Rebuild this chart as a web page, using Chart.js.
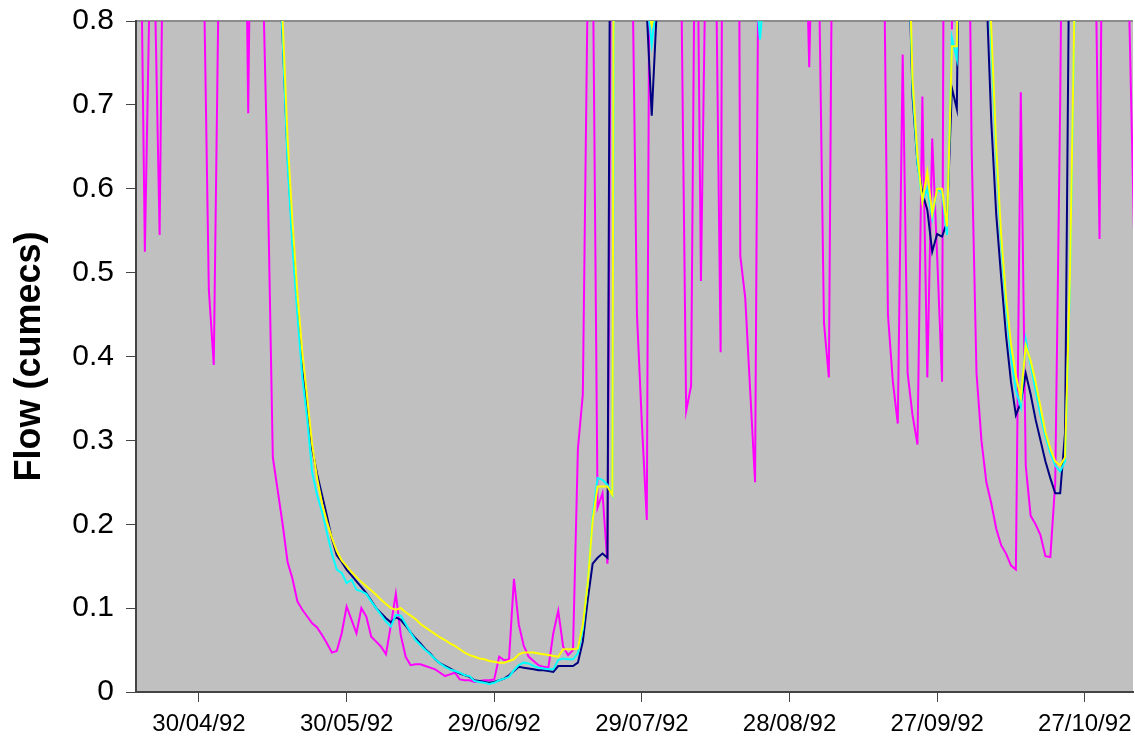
<!DOCTYPE html>
<html>
<head>
<meta charset="utf-8">
<script src="https://cdn.jsdelivr.net/npm/chart.js@4.4.1/dist/chart.umd.min.js"></script>
<style>
  html, body { margin: 0; padding: 0; background: #fff; }
  #wrap { width: 1135px; height: 742px; }
</style>
</head>
<body>
<div id="wrap"><canvas id="flow-chart" width="1135" height="742"></canvas></div>
<script>
// daily series, day 0 = 17/04/92
const tickDays = [13, 43, 73, 103, 133, 163, 193];
const tickLabels = ["30/04/92", "30/05/92", "29/06/92", "29/07/92", "28/08/92", "27/09/92", "27/10/92"];
const yTickLabels = ["0", "0.1", "0.2", "0.3", "0.4", "0.5", "0.6", "0.7", "0.8"];

const observed = [
    1.2, 1.0, 0.525, 0.85, 0.85, 0.545, 1.1, 1.4, 1.6, 1.5,
    1.3, 1.2, 1.1, 1.0, 0.85, 0.48, 0.39, 0.85, 1.2, 1.4,
    1.3, 1.1, 1.2, 0.69, 1.2, 1.1, 0.85, 0.6, 0.28, 0.24,
    0.2, 0.155, 0.135, 0.108, 0.098, 0.09, 0.082, 0.077, 0.068, 0.058,
    0.047, 0.049, 0.07, 0.102, 0.086, 0.07, 0.1, 0.09, 0.066, 0.06,
    0.054, 0.045, 0.08, 0.117, 0.068, 0.042, 0.032, 0.033, 0.033, 0.031,
    0.029, 0.027, 0.023, 0.019, 0.021, 0.023, 0.015, 0.014, 0.014, 0.012,
    0.013, 0.014, 0.014, 0.015, 0.042, 0.038, 0.039, 0.135, 0.08, 0.055,
    0.042, 0.037, 0.032, 0.03, 0.029, 0.07, 0.097, 0.054, 0.044, 0.05,
    0.29, 0.355, 0.85, 0.9, 0.22, 0.237, 0.153, 1.2, 1.5, 1.8,
    1.4, 0.9, 0.45, 0.32, 0.205, 1.5, 1.7, 1.4, 1.2, 1.1,
    1.0, 0.85, 0.335, 0.365, 1.1, 0.49, 0.9, 1.2, 0.9, 0.405,
    2.0, 1.6, 2.0, 0.52, 0.47, 0.36, 0.25, 1.2, 1.4, 1.6,
    1.3, 1.5, 1.8, 1.4, 1.2, 1.1, 1.0, 0.745, 1.0, 0.85,
    0.44, 0.375, 1.2, 1.5, 1.7, 1.4, 1.3, 1.2, 1.4, 1.6,
    1.3, 1.2, 1.0, 0.45, 0.37, 0.32, 0.76, 0.38, 0.33, 0.295,
    0.71, 0.375, 0.66, 0.52, 0.37, 2.0, 0.79, 1.5, 1.8, 1.2,
    0.65, 0.38, 0.3, 0.25, 0.225, 0.195, 0.175, 0.165, 0.151, 0.146,
    0.715, 0.27, 0.21, 0.2, 0.187, 0.162, 0.161, 0.25, 0.7, 1.3,
    1.6, 1.8, 1.5, 1.4, 1.2, 0.95, 0.54, 1.3, 1.5, 1.3,
    1.2, 1.0, 0.82, 0.55
];

const modelNavy = [
    2.6, 2.5, 2.4, 2.3, 2.2, 2.1, 2.0, 1.9, 1.85, 1.8,
    1.7, 1.65, 1.6, 1.5, 1.45, 1.4, 1.35, 1.3, 1.25, 1.2,
    1.15, 1.12, 1.1, 1.07, 1.04, 1.01, 0.98, 0.95, 0.92, 0.89,
    0.78, 0.64, 0.54, 0.46, 0.385, 0.34, 0.29, 0.26, 0.235, 0.21,
    0.183, 0.163, 0.155, 0.146, 0.139, 0.132, 0.125, 0.118, 0.109, 0.1,
    0.094, 0.088, 0.083, 0.089, 0.086, 0.079, 0.071, 0.064, 0.058, 0.051,
    0.046, 0.039, 0.034, 0.031, 0.028, 0.025, 0.022, 0.02, 0.018, 0.014,
    0.013, 0.012, 0.011, 0.012, 0.014, 0.016, 0.02, 0.025, 0.03, 0.029,
    0.028, 0.027, 0.026, 0.026, 0.025, 0.024, 0.031, 0.031, 0.031, 0.031,
    0.035, 0.06, 0.11, 0.153, 0.16, 0.165, 0.16, 1.6, 2.2, 2.0,
    1.6, 1.3, 1.1, 0.95, 0.81, 0.687, 0.81, 1.1, 1.4, 1.35,
    1.3, 1.2, 1.3, 1.4, 1.3, 1.2, 1.15, 1.1, 1.2, 1.3,
    1.5, 1.4, 1.3, 1.2, 1.1, 1.0, 0.95, 0.9, 0.95, 1.2,
    1.3, 1.2, 1.1, 1.05, 1.0, 1.1, 1.2, 1.15, 1.1, 1.2,
    1.3, 1.25, 1.3, 1.4, 1.35, 1.3, 1.25, 1.2, 1.15, 1.1,
    1.05, 1.0, 0.98, 0.96, 0.94, 0.93, 0.93, 0.92, 0.71, 0.63,
    0.595, 0.575, 0.525, 0.546, 0.543, 0.56, 0.72, 0.695, 1.2, 1.4,
    1.3, 1.1, 1.0, 0.84, 0.68, 0.57, 0.495, 0.425, 0.37, 0.33,
    0.345, 0.38, 0.355, 0.325, 0.3, 0.275, 0.255, 0.237, 0.237, 0.31,
    1.0, 1.5, 1.8, 1.7, 1.6, 1.5, 1.4, 1.45, 1.5, 1.4,
    1.35, 1.3, 1.25, 1.2
];

const modelCyan = [
    2.7, 2.6, 2.5, 2.4, 2.3, 2.2, 2.1, 2.0, 1.9, 1.85,
    1.75, 1.7, 1.62, 1.55, 1.5, 1.44, 1.38, 1.33, 1.28, 1.23,
    1.18, 1.14, 1.11, 1.08, 1.05, 1.02, 0.99, 0.96, 0.93, 0.9,
    0.78, 0.63, 0.53, 0.45, 0.375, 0.325, 0.262, 0.235, 0.215, 0.19,
    0.165, 0.146, 0.142, 0.13, 0.134, 0.122, 0.12, 0.117, 0.108, 0.1,
    0.092, 0.084, 0.078, 0.092, 0.091, 0.081, 0.071, 0.062, 0.056, 0.05,
    0.045, 0.039, 0.034, 0.03, 0.027, 0.025, 0.023, 0.02, 0.019, 0.013,
    0.012, 0.011, 0.0095, 0.011, 0.014, 0.016, 0.018, 0.026, 0.032, 0.035,
    0.034, 0.031, 0.029, 0.028, 0.027, 0.027, 0.038, 0.04, 0.039, 0.039,
    0.046, 0.075, 0.13, 0.21, 0.255, 0.253, 0.247, 0.235, 2.0, 2.2,
    1.8, 1.4, 1.1, 0.95, 0.825, 0.772, 0.825, 1.1, 1.4, 1.3,
    1.25, 1.2, 1.3, 1.35, 1.3, 1.2, 1.15, 1.1, 1.2, 1.3,
    1.5, 1.4, 1.3, 1.2, 1.05, 0.95, 0.85, 0.778, 0.85, 1.2,
    1.3, 1.2, 1.1, 1.05, 1.0, 1.1, 1.2, 1.15, 1.1, 1.2,
    1.3, 1.25, 1.3, 1.4, 1.35, 1.3, 1.25, 1.2, 1.15, 1.1,
    1.05, 1.02, 1.0, 0.98, 0.96, 0.95, 0.95, 0.93, 0.72, 0.63,
    0.585, 0.6, 0.565, 0.6, 0.595, 0.545, 0.78, 0.755, 1.2, 1.4,
    1.3, 1.15, 1.05, 0.95, 0.77, 0.64, 0.535, 0.46, 0.4, 0.36,
    0.34, 0.42, 0.39, 0.36, 0.33, 0.305, 0.285, 0.27, 0.263, 0.275,
    0.49, 0.84, 1.5, 1.6, 1.55, 1.5, 1.4, 1.45, 1.5, 1.4,
    1.35, 1.3, 1.25, 1.2
];

const modelYellow = [
    2.8, 2.7, 2.6, 2.5, 2.4, 2.3, 2.2, 2.1, 2.0, 1.95,
    1.85, 1.8, 1.72, 1.65, 1.6, 1.54, 1.48, 1.43, 1.38, 1.33,
    1.28, 1.24, 1.2, 1.16, 1.12, 1.08, 1.04, 1.0, 0.97, 0.93,
    0.8, 0.66, 0.56, 0.475, 0.405, 0.35, 0.295, 0.255, 0.225, 0.203,
    0.184, 0.168, 0.157, 0.15, 0.143, 0.137, 0.131, 0.126, 0.121, 0.116,
    0.11, 0.105, 0.1, 0.098, 0.1, 0.095, 0.091, 0.087, 0.081, 0.077,
    0.073, 0.069, 0.065, 0.062, 0.058, 0.055, 0.051, 0.047, 0.044, 0.042,
    0.04, 0.039, 0.037, 0.036, 0.035, 0.035, 0.037, 0.039, 0.045, 0.047,
    0.047, 0.047, 0.046, 0.045, 0.044, 0.043, 0.042, 0.051, 0.051, 0.051,
    0.052, 0.08, 0.13, 0.205, 0.245, 0.245, 0.245, 0.235, 2.5, 2.4,
    2.0, 1.6, 1.2, 1.0, 0.82, 0.795, 0.82, 1.1, 1.5, 1.4,
    1.3, 1.25, 1.3, 1.4, 1.35, 1.25, 1.2, 1.15, 1.25, 1.35,
    1.55, 1.45, 1.35, 1.25, 1.15, 1.05, 1.0, 0.95, 1.0, 1.25,
    1.35, 1.25, 1.15, 1.1, 1.05, 1.15, 1.25, 1.2, 1.15, 1.25,
    1.35, 1.3, 1.35, 1.45, 1.4, 1.35, 1.3, 1.25, 1.2, 1.15,
    1.1, 1.05, 1.02, 1.0, 0.98, 0.97, 0.96, 0.95, 0.73, 0.64,
    0.585, 0.62, 0.57, 0.6, 0.6, 0.555, 0.77, 0.77, 1.2, 1.4,
    1.35, 1.2, 1.1, 0.95, 0.79, 0.65, 0.545, 0.47, 0.415, 0.377,
    0.351, 0.413, 0.395, 0.37, 0.34, 0.31, 0.29, 0.275, 0.27, 0.28,
    0.5, 0.85, 1.5, 1.6, 1.55, 1.5, 1.4, 1.45, 1.5, 1.4,
    1.35, 1.3, 1.25, 1.2
];

const FONT = "'Liberation Sans', Arial, sans-serif";

// grey plot area with a grey frame line on top
const plotBackground = {
    id: "plotBackground",
    beforeDraw(chart) {
        const { ctx, chartArea: a } = chart;
        ctx.save();
        ctx.fillStyle = "#c0c0c0";
        ctx.fillRect(a.left, a.top, a.right - a.left, a.bottom - a.top);
        ctx.strokeStyle = "#8c8c8c";
        ctx.lineWidth = 2;
        ctx.beginPath();
        ctx.moveTo(a.left, a.top);
        ctx.lineTo(a.right, a.top);
        ctx.stroke();
        ctx.restore();
    }
};

function toPoints(values) {
    return values.map((v, day) => ({ x: day, y: v }));
}

function makeLine(values, color, order) {
    return {
        data: toPoints(values),
        borderColor: color,
        borderWidth: 2,
        pointRadius: 0,
        tension: 0,
        fill: false,
        order: order
    };
}

const ctx = document.getElementById("flow-chart").getContext("2d");

new Chart(ctx, {
    type: "line",
    data: {
        datasets: [
            makeLine(observed, "#ff00ff", 4),
            makeLine(modelNavy, "#000080", 3),
            makeLine(modelCyan, "#00ffff", 2),
            makeLine(modelYellow, "#ffff00", 1)
        ]
    },
    options: {
        responsive: false,
        animation: false,
        layout: { padding: { top: 21, right: 2, left: 0, bottom: 0 } },
        plugins: {
            legend: { display: false },
            tooltip: { enabled: false }
        },
        scales: {
            x: {
                type: "linear",
                min: 0.2,
                max: 202.8,
                afterBuildTicks: scale => {
                    scale.ticks = tickDays.map(d => ({ value: d }));
                },
                afterFit: scale => {
                    scale.height = 50;
                    scale.paddingLeft = 0;
                    scale.paddingRight = 0;
                },
                ticks: {
                    autoSkip: false,
                    maxRotation: 0,
                    padding: 8,
                    color: "#000",
                    font: { family: FONT, size: 24 },
                    callback: (value, index) => tickLabels[index]
                },
                grid: { drawOnChartArea: false, drawTicks: true, tickLength: 10, color: "#444" },
                border: { color: "#444", width: 2 }
            },
            y: {
                min: 0,
                max: 0.8,
                afterFit: scale => {
                    scale.width = 136;
                    scale.paddingTop = 0;
                    scale.paddingBottom = 0;
                },
                ticks: {
                    stepSize: 0.1,
                    padding: 12,
                    color: "#000",
                    font: { family: FONT, size: 30 },
                    callback: (value, index) => yTickLabels[index]
                },
                grid: { drawOnChartArea: false, drawTicks: true, tickLength: 10, color: "#444" },
                border: { color: "#444", width: 2 },
                title: {
                    display: true,
                    text: "Flow (cumecs)",
                    color: "#000",
                    padding: { top: 8, bottom: 0 },
                    font: { family: FONT, size: 36, weight: "bold" }
                }
            }
        }
    },
    plugins: [plotBackground]
});
</script>
</body>
</html>
